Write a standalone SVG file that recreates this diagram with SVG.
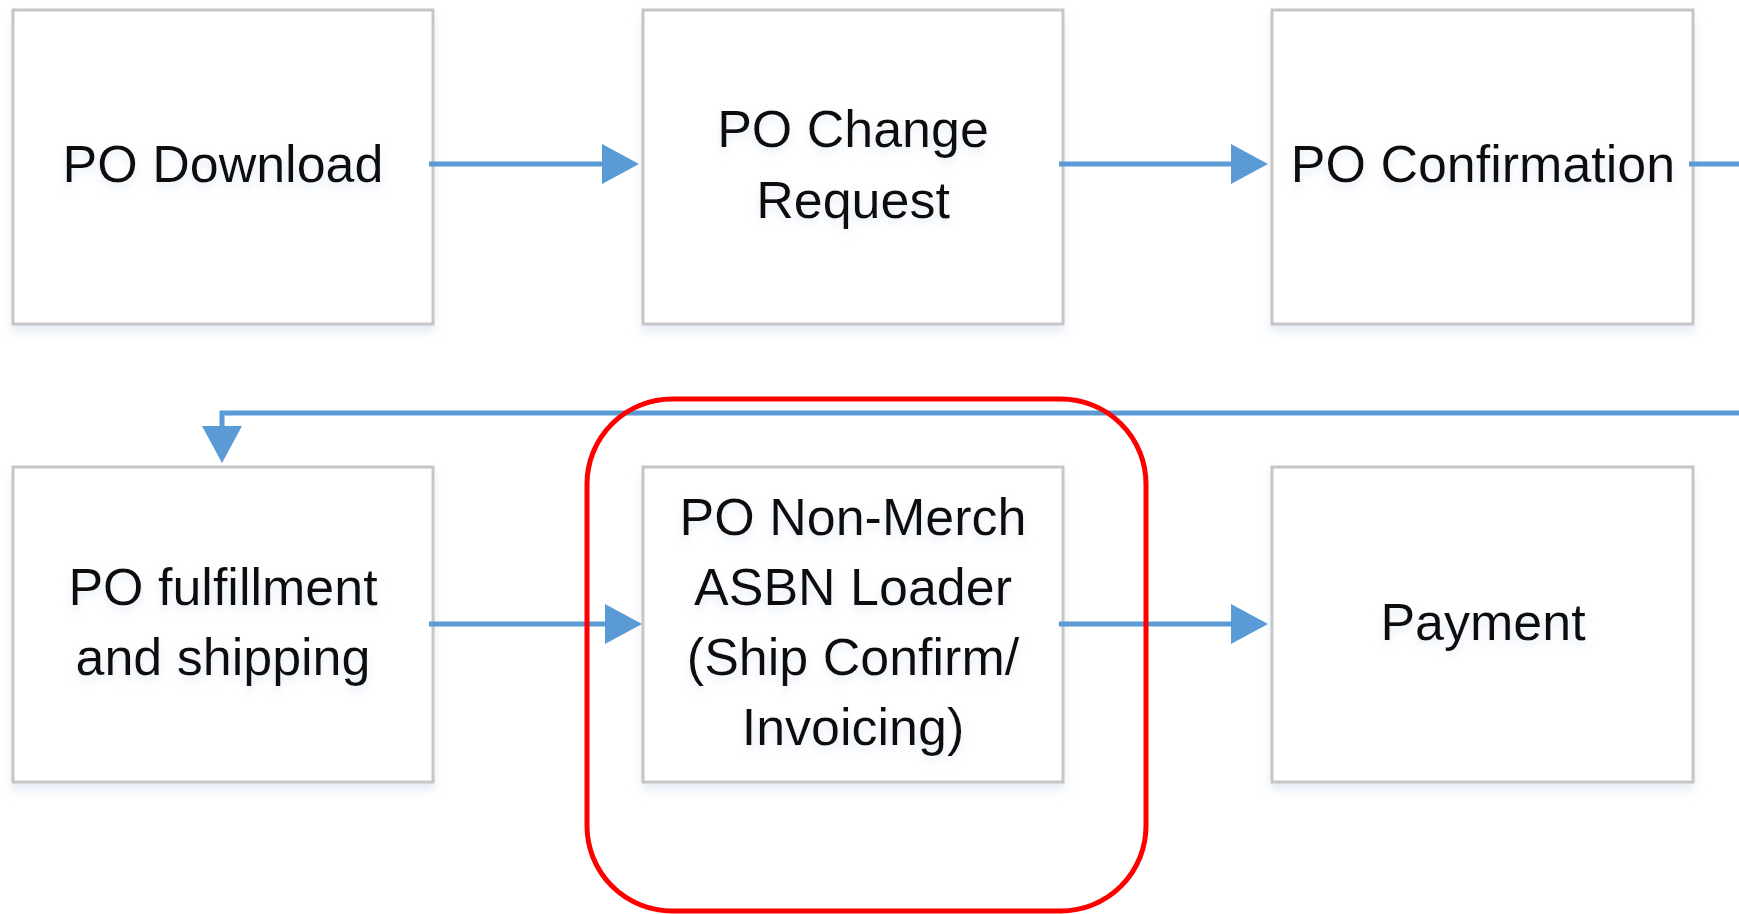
<svg xmlns="http://www.w3.org/2000/svg" width="1739" height="914" viewBox="0 0 1739 914">
  <style>
    .box { fill: #ffffff; stroke: #c6c6c6; stroke-width: 3; filter: url(#shadow); }
    .lbl { font-family: "Liberation Sans", Arial, sans-serif; font-size: 52px; fill: #111111; text-anchor: middle; filter: url(#tshadow); }
    .conn { fill: none; stroke: #5b9bd5; stroke-width: 5; }
    .hl { fill: none; stroke: #ff0000; stroke-width: 5; }
  </style>
  <defs>
    <filter id="shadow" x="-10%" y="-10%" width="120%" height="125%">
      <feDropShadow dx="0" dy="7" stdDeviation="5" flood-color="#d5e0ef" flood-opacity="0.6"/>
    </filter>
    <filter id="tshadow" x="-10%" y="-20%" width="120%" height="160%">
      <feDropShadow dx="0" dy="5" stdDeviation="4" flood-color="#c9d7ea" flood-opacity="0.5"/>
    </filter>
    <marker id="arrow" markerUnits="userSpaceOnUse" markerWidth="38" markerHeight="40" refX="0" refY="20" orient="auto" viewBox="0 0 38 40">
      <path d="M0,0 L37,20 L0,40 Z" fill="#5b9bd5"/>
    </marker>
  </defs>
  <rect width="1739" height="914" fill="#ffffff"/>

  <g id="n1">
    <rect class="box" x="13" y="10" width="420" height="314"/>
    <text class="lbl" x="223" y="182">PO Download</text>
  </g>
  <g id="n2">
    <rect class="box" x="643" y="10" width="420" height="314"/>
    <text class="lbl" x="853" y="147">PO Change</text>
    <text class="lbl" x="853" y="218">Request</text>
  </g>
  <g id="n3">
    <rect class="box" x="1272" y="10" width="421" height="314"/>
    <text class="lbl" x="1483" y="182">PO Confirmation</text>
  </g>
  <g id="n4">
    <rect class="box" x="13" y="467" width="420" height="315"/>
    <text class="lbl" x="223" y="605">PO fulfillment</text>
    <text class="lbl" x="223" y="675">and shipping</text>
  </g>
  <g id="n5">
    <rect class="box" x="643" y="467" width="420" height="315"/>
    <text class="lbl" x="853" y="535">PO Non-Merch</text>
    <text class="lbl" x="853" y="605">ASBN Loader</text>
    <text class="lbl" x="853" y="675">(Ship Confirm/</text>
    <text class="lbl" x="853" y="745">Invoicing)</text>
  </g>
  <g id="n6">
    <rect class="box" x="1272" y="467" width="421" height="315"/>
    <text class="lbl" x="1483" y="640">Payment</text>
  </g>

  <g id="connectors">
    <path class="conn" d="M429,164 H602" marker-end="url(#arrow)"/>
    <path class="conn" d="M1059,164 H1231" marker-end="url(#arrow)"/>
    <path class="conn" d="M1689,164 H1750 V413 H222 V426" marker-end="url(#arrow)"/>
    <path class="conn" d="M429,624 H605" marker-end="url(#arrow)"/>
    <path class="conn" d="M1059,624 H1231" marker-end="url(#arrow)"/>
  </g>

  <g id="highlight">
    <rect class="hl" x="587" y="399" width="559" height="512" rx="85" ry="85"/>
  </g>
</svg>
